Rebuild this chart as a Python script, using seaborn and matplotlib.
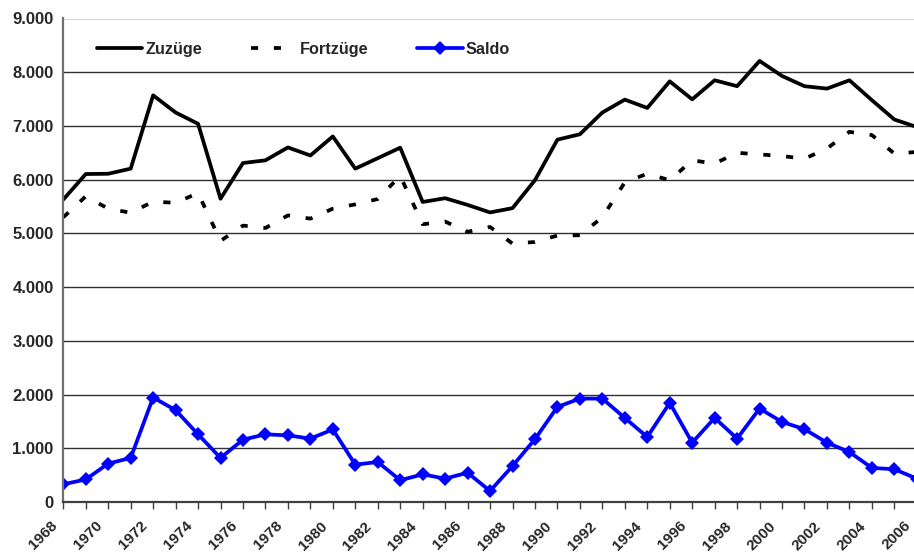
import numpy as np
import pandas as pd
import seaborn as sns
import matplotlib.pyplot as plt
from matplotlib.ticker import FuncFormatter, MultipleLocator
from matplotlib.transforms import ScaledTranslation

years = list(range(1968, 2007))

zuzuege = [5630, 6105, 6110, 6205, 7570, 7250, 7040, 5645, 6310, 6360,
           6600, 6450, 6805, 6205, 6400, 6595, 5585, 5655, 5530, 5390,
           5470, 5990, 6745, 6845, 7250, 7490, 7335, 7830, 7495, 7850,
           7740, 8210, 7930, 7740, 7695, 7850, 7480, 7120, 6980]

fortzuege = [5300, 5690, 5460, 5385, 5590, 5570, 5750, 4860, 5145, 5100,
             5335, 5275, 5460, 5540, 5640, 6070, 5170, 5220, 5030, 5120,
             4810, 4840, 4960, 4965, 5300, 5950, 6110, 5990, 6360, 6300,
             6500, 6470, 6440, 6390, 6580, 6890, 6830, 6485, 6515]

saldo = [330, 420, 715, 820, 1945, 1710, 1260, 820, 1160, 1260,
         1240, 1180, 1350, 695, 745, 405, 515, 435, 545, 205,
         670, 1170, 1770, 1925, 1925, 1565, 1210, 1845, 1105, 1565,
         1180, 1740, 1490, 1355, 1105, 930, 635, 610, 435]

df = pd.DataFrame({'Jahr': years, 'Zuzüge': zuzuege,
                   'Fortzüge': fortzuege, 'Saldo': saldo})

sns.set_style('white')
plt.rcParams['font.family'] = ['Liberation Sans', 'DejaVu Sans']
plt.rcParams['font.weight'] = 'bold'

fig = plt.figure(figsize=(9.14, 5.54), dpi=100)
ax = fig.add_axes([63.3 / 914, 52 / 554, 853.5 / 914, 483.5 / 554])

lw = 2.7
sns.lineplot(data=df, x='Jahr', y='Zuzüge', ax=ax, color='black',
             linewidth=lw, label='Zuzüge')
sns.lineplot(data=df, x='Jahr', y='Fortzüge', ax=ax, color='black',
             linewidth=lw, label='Fortzüge')
sns.lineplot(data=df, x='Jahr', y='Saldo', ax=ax, color='#0000FF',
             linewidth=lw, marker='D', markersize=7, markeredgewidth=0,
             label='Saldo')
ax.lines[1].set_dashes((1.9, 4.2))

ax.set_xlim(1968, 2006)
ax.set_ylim(0, 9000)
ax.yaxis.set_major_locator(MultipleLocator(1000))
ax.yaxis.set_major_formatter(FuncFormatter(lambda v, p: f'{int(v):,}'.replace(',', '.')))
ax.set_xticks(years, minor=True)
ax.set_xticks(years[::2])
ax.set_xticklabels([str(y) for y in years[::2]], rotation=45, ha='right',
                   rotation_mode='anchor', fontsize=11, fontweight='bold')
ax.tick_params(axis='y', labelsize=12, length=3, width=1, color='#707070', pad=4)
ax.tick_params(axis='x', which='both', length=5, width=1, color='#404040',
               direction='out', pad=2, bottom=True)
# move the rotated year labels a bit left and down, like the original
shift = ScaledTranslation(-13 / 100, -7 / 100, fig.dpi_scale_trans)
for lbl in ax.get_xticklabels():
    lbl.set_transform(lbl.get_transform() + shift)
ax.grid(axis='y', color='#303030', linewidth=1)
ax.set_axisbelow(True)
for s in ['top', 'right']:
    ax.spines[s].set_visible(False)
ax.spines['left'].set_color('#707070')
ax.spines['left'].set_linewidth(1.6)
ax.spines['bottom'].set_color('#404040')
ax.spines['bottom'].set_linewidth(1.6)
ax.set_xlabel('')
ax.set_ylabel('')

ax.legend(loc='center left', bbox_to_anchor=(0.022, 0.936), ncol=3, frameon=False,
          prop={'size': 11.7, 'weight': 'bold'}, handlelength=2.8,
          handletextpad=0.2, columnspacing=3.0)

plt.savefig('out.png', dpi=100)
